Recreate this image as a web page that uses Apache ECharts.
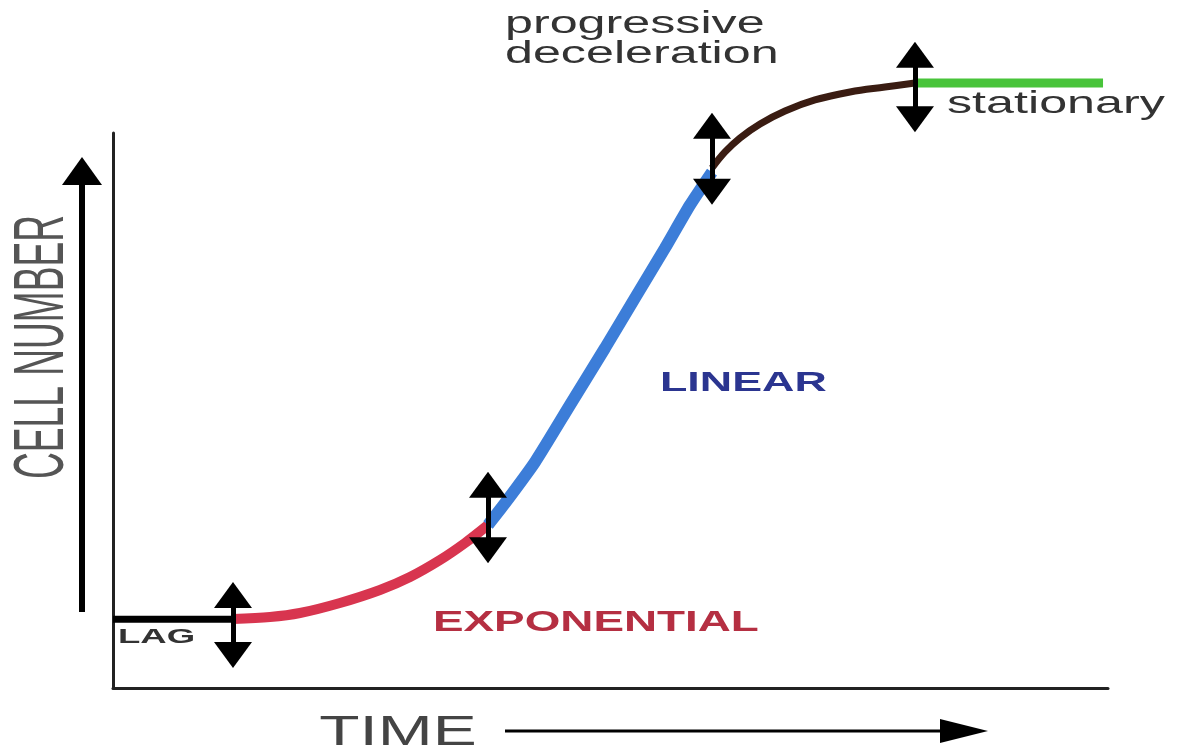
<!DOCTYPE html>
<html>
<head>
<meta charset="utf-8">
<script src="https://cdn.jsdelivr.net/npm/echarts@6/dist/echarts.min.js"></script>
<style>
html,body{margin:0;padding:0;background:#fff;}
#chart{width:1181px;height:755px;}
</style>
</head>
<body>
<div id="chart"></div>
<script>
// Phase curves: [time, cell number] (arbitrary units, time 0-100, cell number 0-100+)
const lagPhase = [[0, 12.4], [12.06, 12.4]];
const exponentialPhase = [[12.06, 12.43], [15.78, 12.79], [18.79, 13.51], [22.81, 15.32], [26.83, 17.66], [29.85, 20.0], [32.86, 23.06], [35.38, 26.13], [37.69, 29.37]];
const linearPhase = [[37.69, 29.37], [39.4, 33.3], [42.41, 40.7], [45.93, 50.99], [49.45, 61.26], [52.46, 70.27], [55.48, 79.28], [57.99, 87.03], [60.2, 92.97]];
const decelerationPhase = [[60.2, 93.69], [61.51, 96.58], [63.02, 99.1], [65.03, 101.62], [67.54, 103.96], [70.55, 105.95], [74.07, 107.39], [77.59, 108.29], [80.6, 109.01]];
const stationaryPhase = [[80.6, 109.01], [99.5, 109.01]];
// Phase boundary markers: [time, lower head, upper head]
const boundaries = [[12.06, 5.95, 16.76], [37.69, 24.8, 36.6], [60.2, 89.4, 101.3], [80.6, 102.5, 114.1]];
// Labels
const phaseLabels = ['LAG', 'EXPONENTIAL', 'LINEAR', 'progressive', 'deceleration', 'stationary'];
const axisTitles = ['CELL NUMBER', 'TIME'];

const chart = echarts.init(document.getElementById('chart'));
const F = '"Liberation Sans", Arial, sans-serif';
function txt(text, x, y, size, color, scaleX, weight, align, rot) {
  return {
    type: 'text', x: x, y: y, scaleX: scaleX, scaleY: 1, rotation: rot || 0, z: 100,
    style: {
      text: text, font: (weight || 'normal') + ' ' + size + 'px ' + F, fill: color,
      textAlign: align || 'left', textVerticalAlign: 'middle', align: align || 'left', verticalAlign: 'middle'
    }
  };
}
const headStyle = { type: 'scatter', symbol: 'triangle', symbolSize: [38, 26], clip: false, z: 6, itemStyle: { color: '#000', opacity: 1 }, silent: true };
const option = {
  animation: false,
  backgroundColor: '#ffffff',
  grid: { left: 113, right: 73, top: 133, bottom: 67 },
  xAxis: {
    type: 'value', min: 0, max: 100,
    axisLine: { show: true, onZero: false, lineStyle: { color: '#222', width: 3 } },
    axisTick: { show: false }, axisLabel: { show: false }, splitLine: { show: false }
  },
  yAxis: {
    type: 'value', min: 0, max: 100,
    axisLine: { show: true, onZero: false, lineStyle: { color: '#222', width: 3 } },
    axisTick: { show: false }, axisLabel: { show: false }, splitLine: { show: false }
  },
  series: [
    { type: 'line', data: lagPhase, showSymbol: false, clip: false, lineStyle: { color: '#000', width: 7 }, z: 3 },
    { type: 'line', data: exponentialPhase, smooth: 0.3, showSymbol: false, clip: false, lineStyle: { color: '#d8354f', width: 10 }, z: 3 },
    { type: 'line', data: linearPhase, smooth: 0.2, showSymbol: false, clip: false, lineStyle: { color: '#3c7dd8', width: 12 }, z: 3 },
    { type: 'line', data: decelerationPhase, smooth: 0.4, showSymbol: false, clip: false, lineStyle: { color: '#3a1c12', width: 7 }, z: 3 },
    { type: 'line', data: stationaryPhase, showSymbol: false, clip: false, lineStyle: { color: '#48c43a', width: 9 }, z: 3 },
    {
      type: 'lines', coordinateSystem: 'cartesian2d', clip: false, z: 5, symbol: ['none', 'none'],
      lineStyle: { color: '#000', width: 5, opacity: 1 },
      data: boundaries.map(b => ({ coords: [[b[0], b[1]], [b[0], b[2]]] }))
    },
    Object.assign({}, headStyle, { data: boundaries.map(b => [b[0], b[2]]) }),
    Object.assign({}, headStyle, { symbolRotate: 180, data: boundaries.map(b => [b[0], b[1]]) })
  ],
  graphic: [
    { type: 'line', shape: { x1: 82, y1: 612, x2: 82, y2: 180 }, style: { stroke: '#000', lineWidth: 6 } },
    { type: 'polygon', shape: { points: [[82, 157], [102, 185], [62, 185]] }, style: { fill: '#000' } },
    { type: 'line', shape: { x1: 505, y1: 731, x2: 950, y2: 731 }, style: { stroke: '#000', lineWidth: 3 } },
    { type: 'polygon', shape: { points: [[940, 719], [988, 731], [940, 743]] }, style: { fill: '#000' } },
    txt(axisTitles[0], 44, 347, 70, '#555', 0.53, 'normal', 'center', Math.PI / 2),
    txt(axisTitles[1], 398, 733, 42, '#444', 1.57, 'normal', 'center'),
    txt(phaseLabels[0], 118, 637, 21, '#333', 1.74, 'bold', 'left'),
    txt(phaseLabels[1], 433, 623, 29, '#b52f42', 1.58, 'bold', 'left'),
    txt(phaseLabels[2], 660, 383, 28, '#2b3590', 1.6, 'bold', 'left'),
    txt(phaseLabels[3], 505, 24, 31, '#333', 1.62, 'normal', 'left'),
    txt(phaseLabels[4], 505, 54, 31, '#333', 1.62, 'normal', 'left'),
    txt(phaseLabels[5], 947, 104, 32, '#333', 1.57, 'normal', 'left')
  ]
};
chart.setOption(option);
</script>
</body>
</html>
